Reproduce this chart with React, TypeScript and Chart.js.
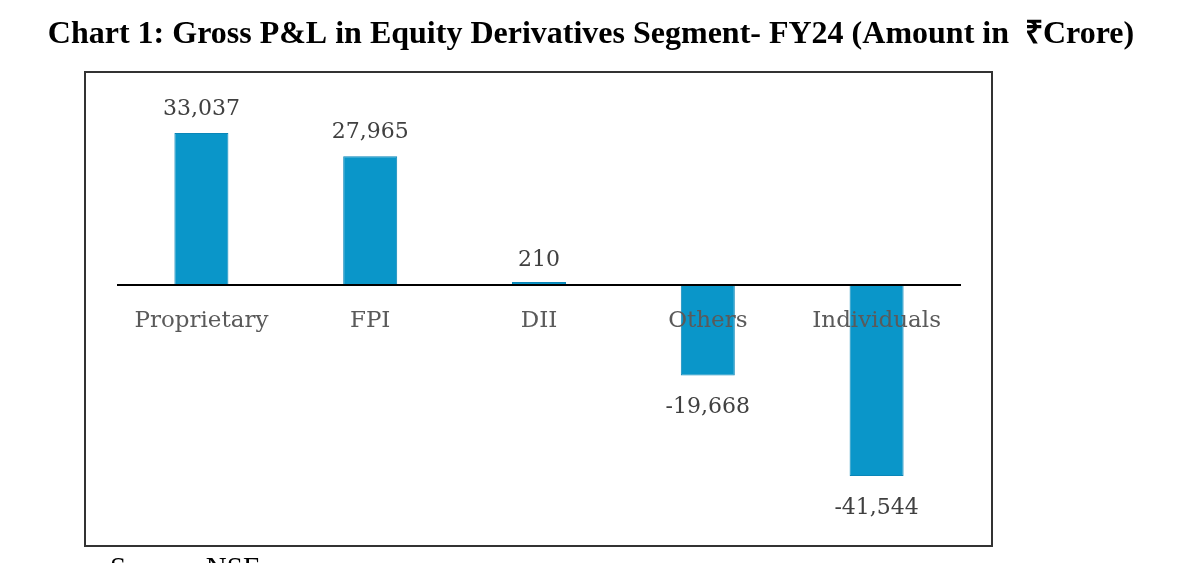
import React, { useEffect, useRef } from "react";
import { Chart, registerables } from "chart.js";

Chart.register(...registerables);

const categories = ["Proprietary", "FPI", "DII", "Others", "Individuals"];
const grossPnl = [33037, 27965, 210, -19668, -41544];
const chartTitle = "Chart 1: Gross P&L in Equity Derivatives Segment- FY24 (Amount in  \u20B9Crore)";
const sourceNote = "Source: NSE";

const BAR_FILL = "#0A96C9";
const BAR_EDGE = "#0A86B8";

const fmt = (v: number) => (v < 0 ? "-" : "") + Math.abs(v).toLocaleString("en-US");

const decorations = {
  id: "decorations",
  beforeDraw(chart: any) {
    const { ctx } = chart;
    ctx.save();
    ctx.fillStyle = "#ffffff";
    ctx.fillRect(0, 0, chart.width, chart.height);

    // heading
    ctx.fillStyle = "#000000";
    ctx.font = "bold 32px 'Liberation Serif', serif";
    ctx.textAlign = "center";
    ctx.textBaseline = "alphabetic";
    ctx.fillText(chartTitle, 591, 43);

    // frame around the plot
    ctx.strokeStyle = "#333333";
    ctx.lineWidth = 2;
    ctx.strokeRect(85, 72, 907, 474);

    // source line under the frame
    ctx.fillStyle = "#000000";
    ctx.font = "29px 'Liberation Serif', serif";
    ctx.textAlign = "left";
    ctx.fillText(sourceNote, 110, 577);
    ctx.restore();
  },
  afterDatasetsDraw(chart: any) {
    const { ctx, chartArea } = chart;
    const x = chart.scales.x;
    const y = chart.scales.y;
    const zero = y.getPixelForValue(0);
    ctx.save();

    // zero line
    ctx.strokeStyle = "#000000";
    ctx.lineWidth = 2;
    ctx.beginPath();
    ctx.moveTo(chartArea.left, zero);
    ctx.lineTo(chartArea.right, zero);
    ctx.stroke();

    // category names just below the zero line
    ctx.font = "23px 'DejaVu Serif', serif";
    ctx.fillStyle = "#5a5a5a";
    ctx.textAlign = "center";
    ctx.textBaseline = "middle";
    categories.forEach((c, i) => {
      ctx.fillText(c, x.getPixelForValue(i), zero + 36);
    });

    // value labels
    ctx.font = "22px 'DejaVu Serif', serif";
    ctx.fillStyle = "#404040";
    grossPnl.forEach((v, i) => {
      const px = x.getPixelForValue(i);
      const py = y.getPixelForValue(v);
      ctx.fillText(fmt(v), px, v >= 0 ? py - 24 : py + 32);
    });
    ctx.restore();
  },
};

export default function App() {
  const ref = useRef<HTMLCanvasElement | null>(null);

  useEffect(() => {
    document.body.style.margin = "0";
    const canvas = ref.current;
    if (!canvas) return;
    const chart = new Chart(canvas, {
      type: "bar",
      data: {
        labels: categories,
        datasets: [
          {
            data: grossPnl,
            backgroundColor: BAR_FILL,
            borderColor: BAR_EDGE,
            borderWidth: 1,
            barPercentage: 0.32,
            categoryPercentage: 1,
            minBarLength: 3,
          },
        ],
      },
      options: {
        responsive: false,
        animation: false,
        devicePixelRatio: 1,
        layout: { padding: { left: 117, right: 239, top: 101, bottom: 48 } },
        plugins: {
          legend: { display: false },
          title: { display: false },
          tooltip: { enabled: false },
        },
        scales: {
          x: { display: false },
          y: { display: false, min: -50000, max: 40000 },
        },
      },
      plugins: [decorations],
    });
    return () => chart.destroy();
  }, []);

  return (
    <div style={{ position: "relative", width: 1200, height: 563, overflow: "hidden", background: "#fff" }}>
      <canvas ref={ref} width={1200} height={563} style={{ display: "block", width: 1200, height: 563 }} />
    </div>
  );
}
